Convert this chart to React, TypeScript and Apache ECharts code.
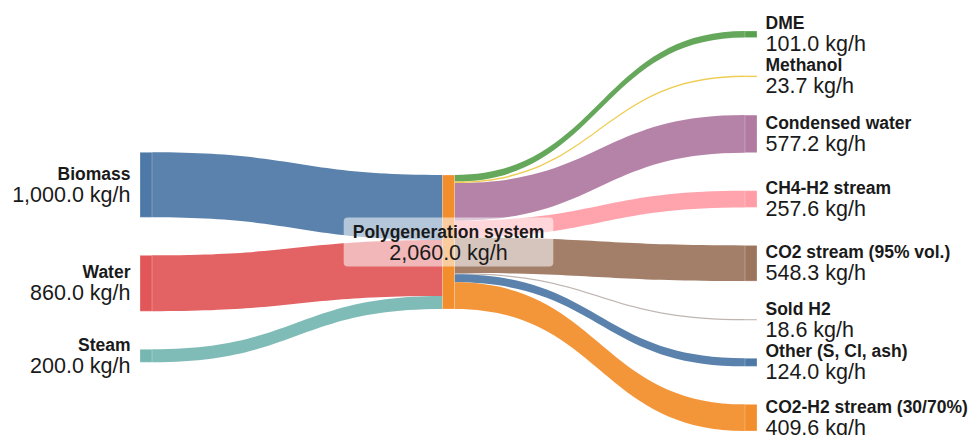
import React, { useEffect, useRef } from "react";
import * as echarts from "echarts";

const inputNames = ["Biomass", "Water", "Steam"];
const inputValues = [1000.0, 860.0, 200.0];
const hubName = "Polygeneration system";
const outputNames = [
  "DME",
  "Methanol",
  "Condensed water",
  "CH4-H2 stream",
  "CO2 stream (95% vol.)",
  "Sold H2",
  "Other (S, Cl, ash)",
  "CO2-H2 stream (30/70%)",
];
const outputValues = [101.0, 23.7, 577.2, 257.6, 548.3, 18.6, 124.0, 409.6];
const unit = "kg/h";

const inputColors = ["#4e79a7", "#e15759", "#76b7b2"];
const hubColor = "#f28e2b";
const outputColors = ["#59a14f", "#edc948", "#b07aa1", "#ff9da7", "#9c755f", "#bab0ac", "#4e79a7", "#f28e2b"];

const FONT = "'Liberation Sans', Arial, Helvetica, sans-serif";

// layout
const W = 976;
const H = 435;
const PAD_LEFT = 140;
const PAD_RIGHT = 219;
const PAD_TOP = 31;
const PAD_BOTTOM = 4;
const NODE_GAP = 38;
const NODE_WIDTH = 12;
// vertical offset (px) of each column's first node from the top of the layout area
const COLUMN_OFFSET = [121.3, 144, 0];

function fmt(v: number) {
  return v.toLocaleString("en-US", { minimumFractionDigits: 1, maximumFractionDigits: 1 });
}

export default function App() {
  const ref = useRef<HTMLDivElement>(null);
  useEffect(() => {
    document.body.style.margin = "0";
    if (!ref.current) return;
    const chart = echarts.init(ref.current, undefined, { renderer: "svg" });

    const layoutH = H - PAD_TOP - PAD_BOTTOM;
    const hubTotal = outputValues.reduce((a, b) => a + b, 0);
    const inTotal = inputValues.reduce((a, b) => a + b, 0);
    const columns = [inputValues, [Math.max(hubTotal, inTotal)], outputValues];
    const ky = Math.min(
      ...columns.map((c) => (layoutH - (c.length - 1) * NODE_GAP) / c.reduce((a, b) => a + b, 0))
    );
    const localYs = columns.map((c, ci) => {
      let y = COLUMN_OFFSET[ci];
      return c.map((v) => {
        const r = y / layoutH;
        y += v * ky + NODE_GAP;
        return r;
      });
    });

    const rich = {
      n: { fontSize: 17.5, fontWeight: "bold" as const, color: "#1a1a1a", lineHeight: 20, fontFamily: FONT },
      v: { fontSize: 21.5, color: "#1a1a1a", lineHeight: 22, fontFamily: FONT },
    };
    const nodes: any[] = [];
    inputNames.forEach((n, i) =>
      nodes.push({
        name: n,
        localY: localYs[0][i],
        itemStyle: { color: inputColors[i] },
        label: { position: "left", distance: 9 },
      })
    );
    nodes.push({
      name: hubName,
      localY: localYs[1][0],
      itemStyle: { color: hubColor },
      label: {
        position: "inside",
        backgroundColor: "rgba(255,255,255,0.55)",
        borderRadius: 4,
        padding: [4, 9, 3, 9],
        align: "center",
      },
    });
    outputNames.forEach((n, i) =>
      nodes.push({
        name: n,
        localY: localYs[2][i],
        itemStyle: { color: outputColors[i] },
        label: { position: "right", distance: 8 },
      })
    );
    const links: any[] = [];
    inputNames.forEach((n, i) =>
      links.push({ source: n, target: hubName, value: inputValues[i], lineStyle: { color: "source" } })
    );
    outputNames.forEach((n, i) =>
      links.push({ source: hubName, target: n, value: outputValues[i], lineStyle: { color: "target" } })
    );
    chart.setOption({
      animation: false,
      textStyle: { fontFamily: FONT },
      series: [
        {
          type: "sankey",
          left: PAD_LEFT,
          right: PAD_RIGHT,
          top: PAD_TOP,
          bottom: PAD_BOTTOM,
          nodeWidth: NODE_WIDTH,
          nodeGap: NODE_GAP,
          layoutIterations: 0,
          draggable: false,
          emphasis: { disabled: true },
          data: nodes,
          links: links,
          itemStyle: { borderWidth: 1, borderColor: "rgba(255,255,255,0.25)" },
          lineStyle: { opacity: 0.93, curveness: 0.5 },
          label: {
            fontFamily: FONT,
            formatter: (p: any) => `{n|${p.name}}\n{v|${fmt(p.value)} ${unit}}`,
            rich,
          },
        },
      ],
    });
    return () => chart.dispose();
  }, []);
  return <div ref={ref} style={{ width: W, height: H }} />;
}
